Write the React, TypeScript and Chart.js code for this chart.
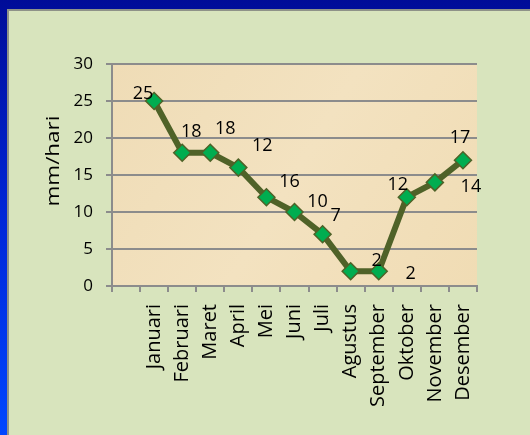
import React, { useEffect, useRef } from "react";
import { Chart, registerables } from "chart.js";

Chart.register(...registerables);

const months = [
  "Januari", "Februari", "Maret", "April", "Mei", "Juni",
  "Juli", "Agustus", "September", "Oktober", "November", "Desember",
];
const rainfall = [25, 18, 18, 16, 12, 10, 7, 2, 2, 12, 14, 17];
const pointLabels = ["25", "18", "18", "12", "16", "10", "7", "2", "2", "12", "14", "17"];
const yTicks = [0, 5, 10, 15, 20, 25, 30];
const yTitle = "mm/hari";

const FONT = "'Open Sans', 'DejaVu Sans', sans-serif";
// label placement relative to each point (dx, dy in px)
const LABEL_OFFSETS: [number, number][] = [
  [-11, -7], [9, -21], [15, -24], [24, -22], [23, -15], [23, -10],
  [13, -18], [26, -10], [32, 3], [-9, -12], [36, 4], [-3, -22],
];

const backgroundPlugin = {
  id: "bgPlugin",
  beforeDraw(chart: any) {
    const { ctx, width, height, chartArea } = chart;
    ctx.save();
    const g = ctx.createLinearGradient(0, 0, 0, height);
    g.addColorStop(0, "#000c98");
    g.addColorStop(0.5, "#0026d8");
    g.addColorStop(1, "#0046ff");
    ctx.fillStyle = g;
    ctx.fillRect(0, 0, width, height);
    // panel
    ctx.fillStyle = "#8e9288";
    ctx.fillRect(7, 9, width - 7, height - 9);
    ctx.fillStyle = "#d8e4bd";
    ctx.fillRect(9, 11, width - 9, height - 11);
    // plot area parchment
    const { left, top, right, bottom } = chartArea;
    const pg = ctx.createLinearGradient(left, top, right, bottom);
    pg.addColorStop(0, "#efdcb6");
    pg.addColorStop(0.5, "#f3e2c0");
    pg.addColorStop(1, "#f0dcb4");
    ctx.fillStyle = pg;
    ctx.fillRect(left, top, right - left, bottom - top);
    ctx.restore();
  },
};

const labelPlugin = {
  id: "labelPlugin",
  afterDatasetsDraw(chart: any) {
    const { ctx } = chart;
    const meta = chart.getDatasetMeta(0);
    ctx.save();
    ctx.font = `18px ${FONT}`;
    ctx.fillStyle = "#000000";
    ctx.textAlign = "center";
    ctx.textBaseline = "middle";
    pointLabels.forEach((txt, i) => {
      const el = meta.data[i + 1];
      if (!el) return;
      const [dx, dy] = LABEL_OFFSETS[i];
      ctx.fillText(txt, el.x + dx, el.y + dy);
    });
    // y axis title
    ctx.translate(54, 161);
    ctx.rotate(-Math.PI / 2);
    ctx.scale(1.18, 1);
    ctx.font = `19px ${FONT}`;
    ctx.fillText(yTitle, 0, 0);
    ctx.restore();
  },
};

export default function App() {
  const ref = useRef<HTMLCanvasElement | null>(null);
  useEffect(() => {
    if (!ref.current) return;
    const chart = new Chart(ref.current, {
      type: "line",
      data: {
        labels: ["", ...months],
        datasets: [
          {
            data: [null, ...rainfall],
            borderColor: "#4f6228",
            borderWidth: 6,
            pointStyle: "rectRot",
            pointRadius: 8.5,
            pointBackgroundColor: "#00ad50",
            pointBorderColor: "#4f6228",
            pointBorderWidth: 1.5,
            tension: 0,
            spanGaps: false,
          },
        ],
      },
      options: {
        responsive: false,
        animation: false,
        events: [],
        layout: { padding: { top: 64, right: 53, left: 0, bottom: 0 } },
        plugins: { legend: { display: false }, tooltip: { enabled: false } },
        scales: {
          x: {
            type: "category",
            offset: true,
            grid: {
              offset: true,
              drawOnChartArea: false,
              drawTicks: true,
              tickLength: 6,
              color: "#8c8c8c",
              lineWidth: 2,
            },
            border: { display: true, color: "#8c8c8c", width: 2 },
            ticks: {
              autoSkip: false,
              minRotation: 90,
              maxRotation: 90,
              padding: 12,
              color: "#000000",
              font: { family: FONT, size: 20 },
            },
            afterFit(scale: any) {
              scale.height = 149;
            },
          },
          y: {
            min: yTicks[0],
            max: yTicks[yTicks.length - 1],
            ticks: {
              stepSize: 5,
              padding: 13,
              color: "#000000",
              font: { family: FONT, size: 17 },
            },
            grid: { color: "#8c8c8c", lineWidth: 2, tickLength: 6 },
            border: { display: true, color: "#8c8c8c", width: 2 },
            afterFit(scale: any) {
              scale.width = 112;
            },
          },
        },
      },
      plugins: [backgroundPlugin, labelPlugin],
    });
    return () => chart.destroy();
  }, []);
  return (
    <div style={{ position: "fixed", left: 0, top: 0, width: 530, height: 435 }}>
      <canvas ref={ref} width={530} height={435} style={{ display: "block" }} />
    </div>
  );
}
